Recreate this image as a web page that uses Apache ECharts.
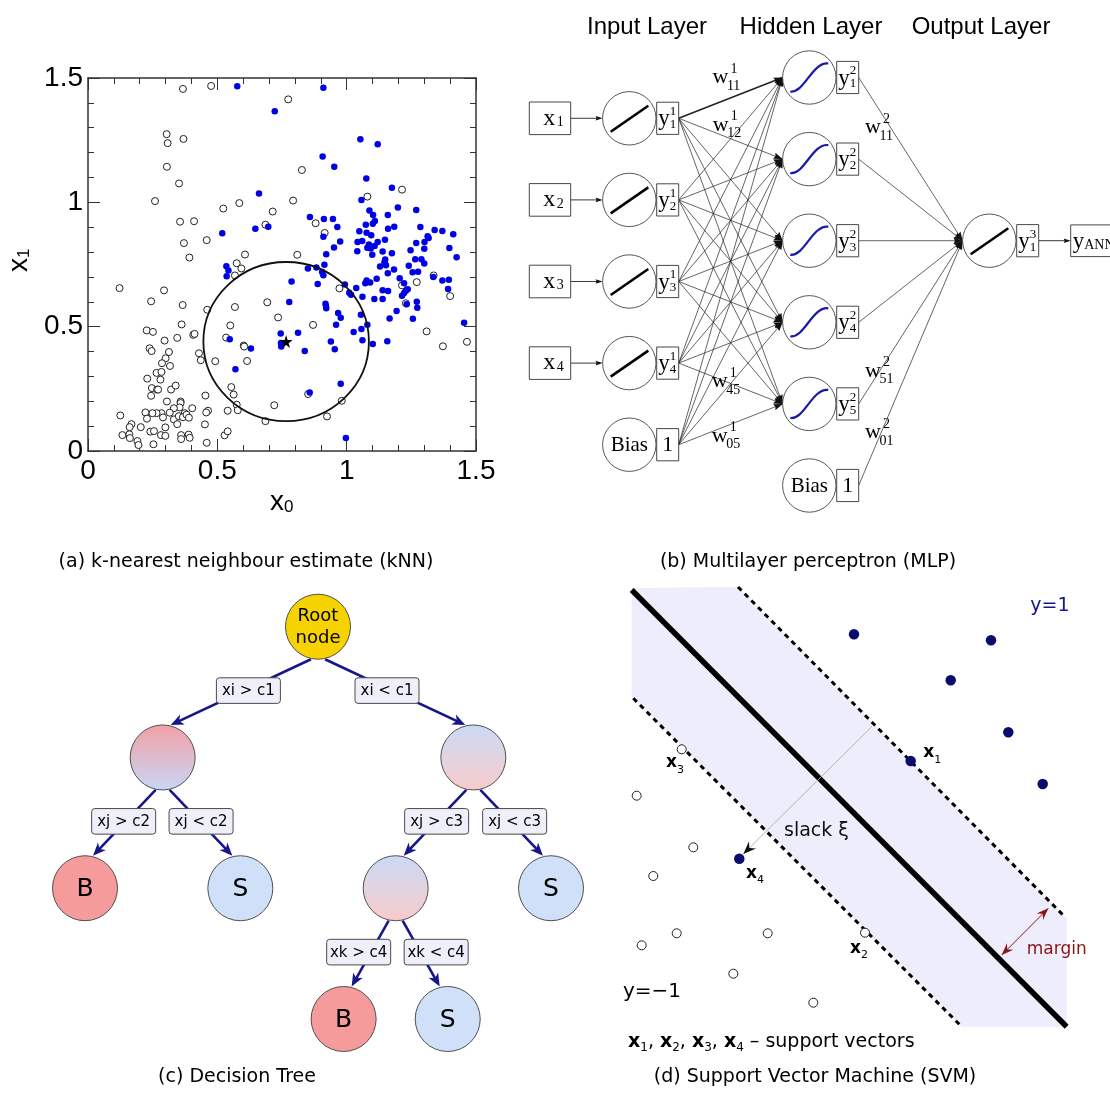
<!DOCTYPE html>
<html><head><meta charset="utf-8">
<script src="https://cdn.jsdelivr.net/npm/echarts@6.0.0/dist/echarts.min.js"></script>
<style>html,body{margin:0;padding:0;background:#fff;}#chart{width:1110px;height:1115px;}</style>
</head><body><div id="chart"></div>
<script>
// ================= DATA =================
const CAPTIONS = ['(a) k-nearest neighbour estimate (kNN)', '(b) Multilayer perceptron (MLP)', '(c) Decision Tree', '(d) Support Vector Machine (SVM)'];

// (a) kNN: background (open) and signal (blue) events, query point and search radius
const KNN_BACKGROUND = [
[0.367,1.456],[0.476,1.468],[0.304,1.274],[0.308,1.238],[0.369,1.255],[0.305,1.143],[0.352,1.076],[0.259,1.005],[0.523,0.975],[0.585,0.997],[0.714,0.963],[0.686,0.910],[0.356,0.922],[0.410,0.924],[0.459,0.848],[0.371,0.836],[0.392,0.778],[0.607,0.790],[0.575,0.755],
[0.774,1.414],[0.827,1.130],[0.793,1.007],[1.080,1.023],[1.214,1.051],[0.880,0.916],[0.915,0.877],[0.809,0.789],
[0.122,0.655],[0.294,0.646],[0.244,0.602],[0.366,0.587],[0.568,0.706],[0.593,0.734],[0.461,0.568],[0.568,0.579],[0.693,0.598],[0.735,0.537],[0.362,0.509],[0.550,0.505],[0.227,0.485],[0.251,0.479],[0.296,0.444],[0.345,0.455],[0.407,0.467],[0.412,0.471],[0.534,0.456],[0.602,0.424],[0.604,0.420],[0.238,0.413],[0.246,0.402],[0.313,0.398],[0.300,0.373],[0.429,0.393],[0.436,0.365],[0.492,0.361],[0.615,0.362],[0.286,0.353],[0.317,0.342],[0.265,0.314],[0.284,0.318],[0.229,0.291],[0.280,0.287],[0.247,0.253],[0.267,0.247],[0.271,0.247],[0.321,0.247],[0.339,0.263],[0.244,0.222],[0.305,0.199],[0.358,0.199],[0.358,0.193],[0.454,0.223],[0.554,0.257],[0.563,0.227],[0.575,0.186],[0.579,0.164],[0.540,0.162],[0.464,0.162],[0.457,0.155],[0.403,0.172],[0.374,0.152],[0.354,0.175],[0.332,0.172],[0.316,0.154],[0.284,0.152],[0.265,0.152],[0.249,0.152],[0.222,0.155],[0.228,0.130],[0.290,0.135],[0.332,0.127],[0.351,0.140],[0.367,0.136],[0.381,0.146],[0.390,0.134],[0.345,0.108],[0.452,0.107],[0.125,0.143],[0.168,0.108],[0.161,0.096],[0.204,0.096],[0.299,0.095],[0.241,0.078],[0.255,0.080],[0.133,0.064],[0.160,0.067],[0.162,0.052],[0.191,0.040],[0.195,0.024],[0.253,0.027],[0.282,0.064],[0.299,0.061],[0.360,0.064],[0.360,0.048],[0.389,0.066],[0.393,0.053],[0.459,0.033],[0.528,0.063],[0.540,0.079],[0.686,0.120],[0.720,0.184],
[0.972,0.654],[0.870,0.507],[0.851,0.229],[0.981,0.202],[0.924,0.139],[1.214,0.666],[1.271,0.679],[1.229,0.594],[1.336,0.706],[1.400,0.623],[1.309,0.481],[1.372,0.421],[1.465,0.439]
];
const KNN_SIGNAL = [
[0.577,1.467],[0.722,1.366],[0.661,1.036],[0.647,0.894],[0.697,0.902],[0.519,0.876],
[0.910,1.461],[1.053,1.254],[1.120,1.234],[0.907,1.184],[0.952,1.143],[1.076,1.096],[1.175,1.059],[1.057,1.009],[1.198,0.979],[1.269,0.969],[1.088,0.967],[1.102,0.949],[1.159,0.949],[1.109,0.925],[1.101,0.914],[1.074,0.910],[0.858,0.941],[0.912,0.933],[0.947,0.933],[0.964,0.901],[1.160,0.894],[1.184,0.902],[1.285,0.901],[1.340,0.889],[1.370,0.885],[1.412,0.872],[1.049,0.884],[1.077,0.878],[1.095,0.868],[0.910,0.862],[0.975,0.842],[1.042,0.840],[1.060,0.845],[1.086,0.830],[1.120,0.840],[1.148,0.850],[1.080,0.817],[1.093,0.814],[1.108,0.824],[0.951,0.818],[0.921,0.791],[1.041,0.803],[1.099,0.789],[1.139,0.802],[1.175,0.795],[1.247,0.807],[1.269,0.836],[1.301,0.840],[1.313,0.864],[1.317,0.857],[1.300,0.813],[1.397,0.816],[1.425,0.779],[1.265,0.771],[1.289,0.771],[1.149,0.770],[1.146,0.759],
[0.535,0.743],[0.543,0.726],[0.536,0.703],[0.548,0.449],[0.630,0.412],[0.570,0.329],[0.745,0.473],[0.746,0.434],[0.747,0.420],
[0.914,0.749],[0.883,0.738],[0.850,0.734],[0.905,0.720],[0.910,0.707],[0.787,0.682],[0.888,0.672],[0.993,0.670],[1.010,0.636],[1.017,0.628],[1.037,0.655],[1.061,0.620],[0.778,0.599],[0.918,0.592],[0.920,0.583],[0.921,0.574],[0.967,0.555],[0.977,0.536],[1.055,0.548],[0.959,0.508],[1.080,0.508],[0.812,0.476],[1.027,0.479],[1.057,0.491],[0.939,0.440],[0.954,0.409],[1.061,0.445],[1.101,0.430],[1.157,0.441],[0.838,0.402],[0.977,0.270],[0.857,0.235],[0.997,0.052],[1.072,0.675],[1.077,0.686],[1.091,0.678],[1.116,0.693],[1.107,0.611],[1.139,0.611],[1.139,0.646],[1.160,0.643],[1.159,0.715],[1.129,0.742],[1.152,0.747],[1.183,0.730],[1.205,0.695],[1.222,0.675],[1.214,0.624],[1.222,0.635],[1.229,0.644],[1.236,0.650],[1.232,0.590],[1.193,0.563],[1.166,0.533],[1.240,0.745],[1.255,0.719],[1.276,0.721],[1.271,0.600],[1.273,0.576],[1.256,0.532],[1.300,0.754],[1.335,0.700],[1.370,0.686],[1.395,0.689],[1.392,0.651],[1.454,0.516]
];
const KNN_QUERY = [[0.766, 0.44]];
const KNN_RADIUS = 0.32;
const KNN_AXIS_NAMES = ['x', '0', 'x', '1'];

// (b) MLP
const MLP_TITLES = ['Input Layer', 'Hidden Layer', 'Output Layer'];
const MLP_INPUTS = ['1', '2', '3', '4'];
const MLP_HIDDEN = ['1', '2', '3', '4', '5'];
const MLP_OUTPUT = ['1'];
const MLP_WEIGHTS = [['1','11'],['1','12'],['1','45'],['1','05'],['2','11'],['2','51'],['2','01']];

// (c) Decision tree
const TREE_NODE_TEXT = ['Root\nnode', '', '', 'B', 'S', '', 'S', 'B', 'S'];
const TREE_NODE_KIND = ['root', 'mixB', 'mixS', 'B', 'S', 'mixS', 'S', 'B', 'S'];
const TREE_EDGES = [[0,1,'xi > c1'],[0,2,'xi < c1'],[1,3,'xj > c2'],[1,4,'xj < c2'],[2,5,'xj > c3'],[2,6,'xj < c3'],[5,7,'xk > c4'],[5,8,'xk < c4']];

// (d) SVM (panel units)
const SVM_POSITIVE = [[254,415.7],[391,409.7],[350.7,369.7],[408.3,317.7],[442.7,266],[310.7,289],[139.3,191.3]];
const SVM_NEGATIVE = [[81.7,300.7],[36.7,254.3],[93.3,202.7],[53.3,174],[76.7,116.7],[41.7,104.7],[167.7,116.7],[265,117.3],[133.3,76.3],[213.3,47.3]];
const SVM_SUPPORT = [['1','pos',5],['2','neg',7],['3','neg',0],['4','pos',6]];
const SVM_HYPERPLANE = [[31.7,460],[466.7,23.3]];
const SVM_MARGIN_UP = [[138,463],[465,133]];
const SVM_MARGIN_LOW = [[33.3,351.7],[361.7,23.3]];
const SVM_BAND = [[31.7,462],[138,463],[465,133],[466.7,133],[466.7,23.3],[361.7,23.3],[33.3,351.7],[31.7,351.7]];
const SVM_SLACK = [[271.7,323.3],[143.3,196]];
const SVM_MARGIN_ARROW = [[401.7,95],[448.3,141.7]];
const SVM_TEXT = ['y=1', 'y=\u22121', 'slack \u03be', 'margin'];
const SVM_CAPTION = ' \u2013 support vectors';

// ================= LAYOUT / STYLE =================
const SERIF = '"Liberation Serif","Times New Roman",serif';
const SANS = '"Liberation Sans",Arial,sans-serif';
const DV = '"DejaVu Sans",sans-serif';
const NAVY = '#16168a';
const ML = {r: 26.7, boxGap: 0.7, yBoxW: 22, yBoxH: 32.2, inRowOff: 0.5, inCol: 0, hidCol: 1, outCol: 2, outRow: 2,
  wPos: [[0.506,0],[0.508,0.586],[0.502,3.728],[0.502,4.393],[1.354,0.613],[1.354,3.594],[1.354,4.35]]};
const TL = {r: 32.5, boxW: 64, boxH: 25.6, sdx: 7, edx: 8,
  pos: [[3,0],[1,1],[5,1],[0,2],[2,2],[4,2],[6,2],[3.33,3],[4.67,3]],
  labelDx: [-69.6, 69, -39, 38.4, -36.7, 41.3, -37, 40.5]};
const SVM_TEXT_POS = [[450,444],[52,58],[216.5,219.3],[456.7,100.7]];
const SVM_TEXT_COLOR = [NAVY, '#000', '#111', '#8a1414'];
const SVM_TEXT_FONT = ['19px '+DV, '20px '+DV, '19px '+DV, '17px '+DV];
const SVM_SV_OFF = [[12.6,-8],[-15,15.6],[-15.7,13.4],[6.7,14.6]];

// ================= HELPERS =================
const cv = document.createElement('canvas').getContext('2d');
function tw(t, f) { cv.font = f; return cv.measureText(t).width; }
function T(x, y, t, f, o) {
  o = o || {};
  return {type: 'text', x: x, y: y, z2: 20,
    style: {text: t, font: f, fill: o.c || '#000', align: o.a || 'center', textAlign: o.a || 'center',
      verticalAlign: o.v || 'middle', textVerticalAlign: o.v || 'middle'}};
}
function seq(x, y, segs) {
  const out = []; let cx = x;
  for (const s of segs) { out.push(T(cx, y + (s.dy || 0), s.t, s.f, {a: 'left', c: s.c})); cx += tw(s.t, s.f) + (s.sp || 0); }
  return out;
}
function arrow(x1, y1, x2, y2, len, hw, color, notch) {
  const dx = x2 - x1, dy = y2 - y1, d = Math.hypot(dx, dy), ux = dx / d, uy = dy / d;
  const bx = x2 - ux * len, by = y2 - uy * len;
  const nk = notch || 1, nx = x2 - ux * len * nk, ny = y2 - uy * len * nk;
  return {type: 'polygon', z2: 15, shape: {points: [[x2, y2], [bx - uy * hw, by + ux * hw], [nx, ny], [bx + uy * hw, by - ux * hw]]}, style: {fill: color}};
}
function box(x, y, w, h, extra) {
  return Object.assign({type: 'rect', z2: 5, shape: {x: x, y: y, width: w, height: h}, style: {fill: '#fff', stroke: '#333', lineWidth: 0.9}}, extra || {});
}

// ---------- MLP structure ----------
const MLP_NODES = [];
MLP_INPUTS.forEach((lab, i) => MLP_NODES.push({kind: 'in', col: ML.inCol, row: i + ML.inRowOff, lab: lab, layer: '1'}));
MLP_NODES.push({kind: 'bias', col: ML.inCol, row: MLP_INPUTS.length + ML.inRowOff});
MLP_HIDDEN.forEach((lab, j) => MLP_NODES.push({kind: 'hid', col: ML.hidCol, row: j, lab: lab, layer: '2'}));
MLP_NODES.push({kind: 'bias', col: ML.hidCol, row: MLP_HIDDEN.length});
MLP_OUTPUT.forEach(lab => MLP_NODES.push({kind: 'out', col: ML.outCol, row: ML.outRow, lab: lab, layer: '3'}));
const MLP_EDGES = [];
const nIn = MLP_INPUTS.length + 1, hid0 = nIn, nHid = MLP_HIDDEN.length, outIdx = MLP_NODES.length - 1;
for (let a = 0; a < nIn; a++) for (let b = 0; b < nHid; b++) MLP_EDGES.push({a: a, b: hid0 + b, bold: a === 0 && b === 0});
for (let b = 0; b < nHid + 1; b++) MLP_EDGES.push({a: hid0 + b, b: outIdx, bold: false});

function mlpNode(params, api) {
  const n = MLP_NODES[params.dataIndex];
  const c = api.coord([n.col, n.row]), cx = c[0], cy = c[1], R = ML.r;
  const ch = [{type: 'circle', z2: 5, shape: {cx: cx, cy: cy, r: R}, style: {fill: '#fff', stroke: '#444', lineWidth: 0.9}}];
  if (n.kind === 'in' || n.kind === 'out')
    ch.push({type: 'line', z2: 6, shape: {x1: cx - 18.6, y1: cy + 13.5, x2: cx + 19, y2: cy - 12.5}, style: {stroke: '#000', lineWidth: 2.6}});
  if (n.kind === 'hid')
    ch.push({type: 'bezierCurve', z2: 6, shape: {x1: cx - 19, y1: cy + 14, cpx1: cx - 5, cpy1: cy + 16, cpx2: cx + 3, cpy2: cy - 16, x2: cx + 19, y2: cy - 14}, style: {stroke: '#1a1aa8', lineWidth: 2.2, fill: null}});
  if (n.kind === 'bias') ch.push(T(cx, cy + 1, 'Bias', '21px ' + SERIF));
  const bx = cx + R + ML.boxGap, bw = ML.yBoxW, bh = ML.yBoxH;
  ch.push(box(bx, cy - bh / 2, bw, bh));
  if (n.kind === 'bias') ch.push(T(bx + bw / 2, cy + 1, '1', '22px ' + SERIF));
  else {
    ch.push(T(bx + 1.5, cy + 1, 'y', '23px ' + SERIF, {a: 'left'}));
    ch.push(T(bx + 13, cy - 6.5, n.layer, '13px ' + SERIF, {a: 'left'}));
    ch.push(T(bx + 13, cy + 6.5, n.lab, '13px ' + SERIF, {a: 'left'}));
  }
  if (n.kind === 'in') {
    const xb = cx - 100, xw = 41.4;
    ch.push(box(xb, cy - 16.3, xw, 32.6));
    ch.push(T(xb + 14, cy, 'x', '24px ' + SERIF, {a: 'left'}));
    ch.push(T(xb + 27.5, cy + 4, n.lab, '14px ' + SERIF, {a: 'left'}));
    ch.push({type: 'line', shape: {x1: xb + xw, y1: cy, x2: cx - R - 5, y2: cy}, style: {stroke: '#222', lineWidth: 0.9}});
    ch.push(arrow(xb + xw, cy, cx - R, cy, 7, 2.3, '#111', 0.85));
  }
  if (n.kind === 'out') {
    const ax = bx + bw, ex = ax + 32;
    ch.push({type: 'line', shape: {x1: ax, y1: cy, x2: ex - 5, y2: cy}, style: {stroke: '#222', lineWidth: 0.9}});
    ch.push(arrow(ax, cy, ex, cy, 7, 2.3, '#111', 0.85));
    ch.push(box(ex, cy - 15.8, 46, 31.7));
    ch.push(...seq(ex + 2, cy + 1, [{t: 'y', f: '23px ' + SERIF}, {t: 'ANN', f: '14px ' + SERIF, dy: 4}]));
  }
  return {type: 'group', children: ch};
}
function mlpEdge(params, api) {
  const e = MLP_EDGES[params.dataIndex], A = MLP_NODES[e.a], B = MLP_NODES[e.b];
  const a = api.coord([A.col, A.row]), b = api.coord([B.col, B.row]);
  const x1 = a[0] + ML.r + ML.boxGap + ML.yBoxW, y1 = a[1], x2 = b[0] - ML.r, y2 = b[1];
  return {type: 'group', children: [
    {type: 'line', shape: {x1: x1, y1: y1, x2: x2, y2: y2}, style: {stroke: '#222', lineWidth: e.bold ? 1.5 : 0.7}},
    arrow(x1, y1, x2, y2, 9, 3.2, '#111', 0.85)]};
}
function mlpWeight(params, api) {
  const w = MLP_WEIGHTS[params.dataIndex], c = api.coord(ML.wPos[params.dataIndex]);
  return {type: 'group', children: [
    T(c[0], c[1], 'w', '22px ' + SERIF),
    T(c[0] + 10, c[1] - 8.5, w[0], '14px ' + SERIF, {a: 'left'}),
    T(c[0] + 6.5, c[1] + 8.5, w[1], '14px ' + SERIF, {a: 'left'})]};
}

// ---------- tree ----------
function treeFill(kind) {
  switch (kind) {
    case 'root': return '#f6d200';
    case 'B': return '#f59b9c';
    case 'S': return '#cfe0f8';
    case 'mixB': return new echarts.graphic.LinearGradient(0, 0, 0, 1, [{offset: 0, color: '#f3a0a5'}, {offset: 1, color: '#c7d7f6'}]);
    default: return new echarts.graphic.LinearGradient(0, 0, 0, 1, [{offset: 0, color: '#cbdaf6'}, {offset: 1, color: '#f8cbcb'}]);
  }
}
function treeEdge(params, api) {
  const i = params.dataIndex, e = TREE_EDGES[i];
  const p = api.coord(TL.pos[e[0]]), c = api.coord(TL.pos[e[1]]);
  const s = Math.sign(c[0] - p[0]);
  const x1 = p[0] + s * TL.sdx, y1 = p[1] + TL.r, x2 = c[0] - s * TL.edx, y2 = c[1] - TL.r;
  const d = Math.hypot(x2 - x1, y2 - y1), ux = (x2 - x1) / d, uy = (y2 - y1) / d;
  const ym = (p[1] + c[1]) / 2 - 1.5, xm = p[0] + TL.labelDx[i];
  return {type: 'group', children: [
    {type: 'line', shape: {x1: x1, y1: y1, x2: x2 - ux * 8, y2: y2 - uy * 8}, style: {stroke: NAVY, lineWidth: 2.6}},
    arrow(x1, y1, x2, y2, 13, 5.5, NAVY, 0.72),
    {type: 'rect', z2: 16, shape: {x: xm - TL.boxW / 2, y: ym - TL.boxH / 2, width: TL.boxW, height: TL.boxH, r: 3}, style: {fill: '#eeeff8', stroke: '#4a4a4a', lineWidth: 1}},
    T(xm, ym + 0.5, e[2], '15px ' + DV)]};
}
function treeNode(params, api) {
  const i = params.dataIndex, c = api.coord(TL.pos[i]);
  const ch = [{type: 'circle', shape: {cx: c[0], cy: c[1], r: TL.r}, style: {fill: treeFill(TREE_NODE_KIND[i]), stroke: '#505050', lineWidth: 1}}];
  const txt = TREE_NODE_TEXT[i];
  if (txt.indexOf('\n') >= 0) {
    const ls = txt.split('\n');
    ch.push(T(c[0], c[1] - 10, ls[0], '18px ' + DV));
    ch.push(T(c[0], c[1] + 11.5, ls[1], '18px ' + DV));
  } else if (txt) ch.push(T(c[0], c[1] + 1, txt, '25px ' + DV));
  return {type: 'group', children: ch};
}

// ---------- SVM ----------
function svmBand(params, api) {
  return {type: 'polygon', shape: {points: SVM_BAND.map(p => api.coord(p))}, style: {fill: '#ededfb'}};
}
function svmArrows(params, api) {
  const s0 = api.coord(SVM_SLACK[0]), s1 = api.coord(SVM_SLACK[1]);
  const m0 = api.coord(SVM_MARGIN_ARROW[0]), m1 = api.coord(SVM_MARGIN_ARROW[1]);
  const RED = '#8a1414';
  return {type: 'group', children: [
    {type: 'line', shape: {x1: s0[0], y1: s0[1], x2: s1[0], y2: s1[1]}, style: {stroke: '#b4b4b4', lineWidth: 1}},
    arrow(s0[0], s0[1], s1[0], s1[1], 13, 5, '#111', 0.65),
    {type: 'line', shape: {x1: m0[0], y1: m0[1], x2: m1[0], y2: m1[1]}, style: {stroke: RED, lineWidth: 1}},
    arrow(m1[0], m1[1], m0[0], m0[1], 12, 4.5, RED, 0.65),
    arrow(m0[0], m0[1], m1[0], m1[1], 12, 4.5, RED, 0.65)]};
}
function svmTexts(params, api) {
  const ch = [];
  SVM_TEXT.forEach((t, i) => { const c = api.coord(SVM_TEXT_POS[i]); ch.push(T(c[0], c[1], t, SVM_TEXT_FONT[i], {c: SVM_TEXT_COLOR[i]})); });
  SVM_SUPPORT.forEach((s, i) => {
    const p = api.coord((s[1] === 'pos' ? SVM_POSITIVE : SVM_NEGATIVE)[s[2]]);
    ch.push(...seq(p[0] + SVM_SV_OFF[i][0], p[1] + SVM_SV_OFF[i][1], [{t: 'x', f: 'bold 17px ' + DV}, {t: s[0], f: '11px ' + DV, dy: 7}]));
  });
  const c = api.coord([28, 8.3]);
  const segs = [];
  SVM_SUPPORT.slice().sort((a, b) => a[0] - b[0]).forEach((s, i) => {
    segs.push({t: 'x', f: 'bold 19px ' + DV}); segs.push({t: s[0], f: '12px ' + DV, dy: 6});
    if (i < 3) segs.push({t: ', ', f: '19px ' + DV});
  });
  segs.push({t: SVM_CAPTION, f: '19px ' + DV});
  ch.push(...seq(c[0], c[1], segs));
  return {type: 'group', children: ch};
}

// ================= CHART =================
const hiddenAxis = (gi, extra) => Object.assign({gridIndex: gi, type: 'value', show: false, splitLine: {show: false}}, extra);
const knnAxisCommon = {
  type: 'value', min: 0, max: 1.5, interval: 0.5, gridIndex: 0,
  axisLine: {show: true, onZero: false, lineStyle: {color: '#333', width: 1.5}},
  axisTick: {show: true, inside: true, length: 12, lineStyle: {color: '#333', width: 1}},
  minorTick: {show: true, splitNumber: 5, length: 6, lineStyle: {color: '#333', width: 1}},
  splitLine: {show: false}, minorSplitLine: {show: false}
};
const knnLabel = {fontSize: 28, color: '#000', fontFamily: SANS};

const star = 'path://M50,0 L61,35 L98,35 L68,57 L79,91 L50,70 L21,91 L32,57 L2,35 L39,35 Z';

const option = {
  animation: false,
  backgroundColor: '#fff',
  grid: [
    {left: 88, top: 78, width: 388, height: 373},
    {left: 521.3, top: 36.7, width: 576, height: 489.6},
    {left: 85, top: 626.7, width: 466, height: 392.3},
    {left: 600, top: 580, width: 510, height: 470}
  ],
  xAxis: [
    Object.assign({}, knnAxisCommon, {position: 'bottom', axisLabel: Object.assign({margin: 6}, knnLabel)}),
    Object.assign({}, knnAxisCommon, {position: 'top', axisLabel: {show: false}}),
    hiddenAxis(1, {min: -0.6, max: 2.6}),
    hiddenAxis(2, {min: 0, max: 6}),
    hiddenAxis(3, {min: 0, max: 510})
  ],
  yAxis: [
    Object.assign({}, knnAxisCommon, {position: 'left', axisLabel: Object.assign({margin: 5}, knnLabel)}),
    Object.assign({}, knnAxisCommon, {position: 'right', axisLabel: {show: false}}),
    hiddenAxis(1, {min: -0.5, max: 5.5, inverse: true}),
    hiddenAxis(2, {min: 0, max: 3, inverse: true}),
    hiddenAxis(3, {min: 0, max: 470})
  ],
  series: [
    // (a)
    {type: 'scatter', xAxisIndex: 0, yAxisIndex: 0, data: KNN_BACKGROUND, symbol: 'circle', symbolSize: 7,
      itemStyle: {color: '#fff', borderColor: '#222', borderWidth: 1, opacity: 1}, z: 3, silent: true},
    {type: 'scatter', xAxisIndex: 0, yAxisIndex: 0, data: KNN_SIGNAL, symbol: 'circle', symbolSize: 6.5,
      itemStyle: {color: '#0000e6', opacity: 1}, z: 4, silent: true},
    {type: 'custom', xAxisIndex: 0, yAxisIndex: 0, coordinateSystem: 'cartesian2d', clip: false, silent: true, z: 5,
      data: KNN_QUERY.map(q => [q[0], q[1], KNN_RADIUS]),
      renderItem: (p, api) => {
        const c = api.coord([api.value(0), api.value(1)]), s = api.size([api.value(2), api.value(2)]);
        return {type: 'ellipse', shape: {cx: c[0], cy: c[1], rx: s[0], ry: s[1]}, style: {fill: null, stroke: '#111', lineWidth: 1.8}};
      }},
    {type: 'scatter', xAxisIndex: 0, yAxisIndex: 0, data: KNN_QUERY, symbol: star, symbolSize: 13,
      itemStyle: {color: '#000', opacity: 1}, z: 6, silent: true},
    // (b)
    {type: 'custom', xAxisIndex: 2, yAxisIndex: 2, coordinateSystem: 'cartesian2d', clip: false, silent: true, z: 3,
      data: MLP_EDGES.map(e => [MLP_NODES[e.a].col, MLP_NODES[e.a].row]), renderItem: mlpEdge},
    {type: 'custom', xAxisIndex: 2, yAxisIndex: 2, coordinateSystem: 'cartesian2d', clip: false, silent: true, z: 4,
      data: MLP_NODES.map(n => [n.col, n.row]), renderItem: mlpNode},
    {type: 'custom', xAxisIndex: 2, yAxisIndex: 2, coordinateSystem: 'cartesian2d', clip: false, silent: true, z: 5,
      data: ML.wPos, renderItem: mlpWeight},
    // (c)
    {type: 'custom', xAxisIndex: 3, yAxisIndex: 3, coordinateSystem: 'cartesian2d', clip: false, silent: true, z: 3,
      data: TREE_EDGES.map(e => TL.pos[e[0]]), renderItem: treeEdge},
    {type: 'custom', xAxisIndex: 3, yAxisIndex: 3, coordinateSystem: 'cartesian2d', clip: false, silent: true, z: 4,
      data: TL.pos, renderItem: treeNode},
    // (d)
    {type: 'custom', xAxisIndex: 4, yAxisIndex: 4, coordinateSystem: 'cartesian2d', clip: false, silent: true, z: 1,
      data: [SVM_BAND[0]], renderItem: svmBand},
    {type: 'line', xAxisIndex: 4, yAxisIndex: 4, data: SVM_HYPERPLANE, symbol: 'none', silent: true, z: 3,
      lineStyle: {color: '#000', width: 5.5}},
    {type: 'line', xAxisIndex: 4, yAxisIndex: 4, data: SVM_MARGIN_UP, symbol: 'none', silent: true, z: 3,
      lineStyle: {color: '#000', width: 3, type: [5, 4.5]}},
    {type: 'line', xAxisIndex: 4, yAxisIndex: 4, data: SVM_MARGIN_LOW, symbol: 'none', silent: true, z: 3,
      lineStyle: {color: '#000', width: 3, type: [5, 4.5]}},
    {type: 'custom', xAxisIndex: 4, yAxisIndex: 4, coordinateSystem: 'cartesian2d', clip: false, silent: true, z: 4,
      data: [SVM_SLACK[0]], renderItem: svmArrows},
    {type: 'scatter', xAxisIndex: 4, yAxisIndex: 4, data: SVM_NEGATIVE, symbol: 'circle', symbolSize: 9,
      itemStyle: {color: '#fff', borderColor: '#222', borderWidth: 1, opacity: 1}, z: 5, silent: true},
    {type: 'scatter', xAxisIndex: 4, yAxisIndex: 4, data: SVM_POSITIVE, symbol: 'circle', symbolSize: 10.5,
      itemStyle: {color: '#0b0b6e', opacity: 1}, z: 5, silent: true},
    {type: 'custom', xAxisIndex: 4, yAxisIndex: 4, coordinateSystem: 'cartesian2d', clip: false, silent: true, z: 6,
      data: [SVM_TEXT_POS[0]], renderItem: svmTexts}
  ],
  graphic: [
    T(246, 562, CAPTIONS[0], '19px ' + DV),
    T(808, 562, CAPTIONS[1], '19px ' + DV),
    T(237, 1077, CAPTIONS[2], '19px ' + DV),
    T(815, 1077, CAPTIONS[3], '19px ' + DV),
    T(647, 27, MLP_TITLES[0], '24px ' + SANS),
    T(811, 27, MLP_TITLES[1], '24px ' + SANS),
    T(981, 27, MLP_TITLES[2], '24px ' + SANS),
    {type: 'group', children: seq(270, 502, [{t: KNN_AXIS_NAMES[0], f: '28px ' + SANS}, {t: KNN_AXIS_NAMES[1], f: '17px ' + SANS, dy: 5}])},
    {type: 'group', x: 19, y: 272, rotation: Math.PI / 2, children: seq(0, 0, [{t: KNN_AXIS_NAMES[2], f: '28px ' + SANS}, {t: KNN_AXIS_NAMES[3], f: '17px ' + SANS, dy: 5}])}
  ]
};
const chart = echarts.init(document.getElementById('chart'), null, {renderer: 'canvas'});
chart.setOption(option);
</script></body></html>
